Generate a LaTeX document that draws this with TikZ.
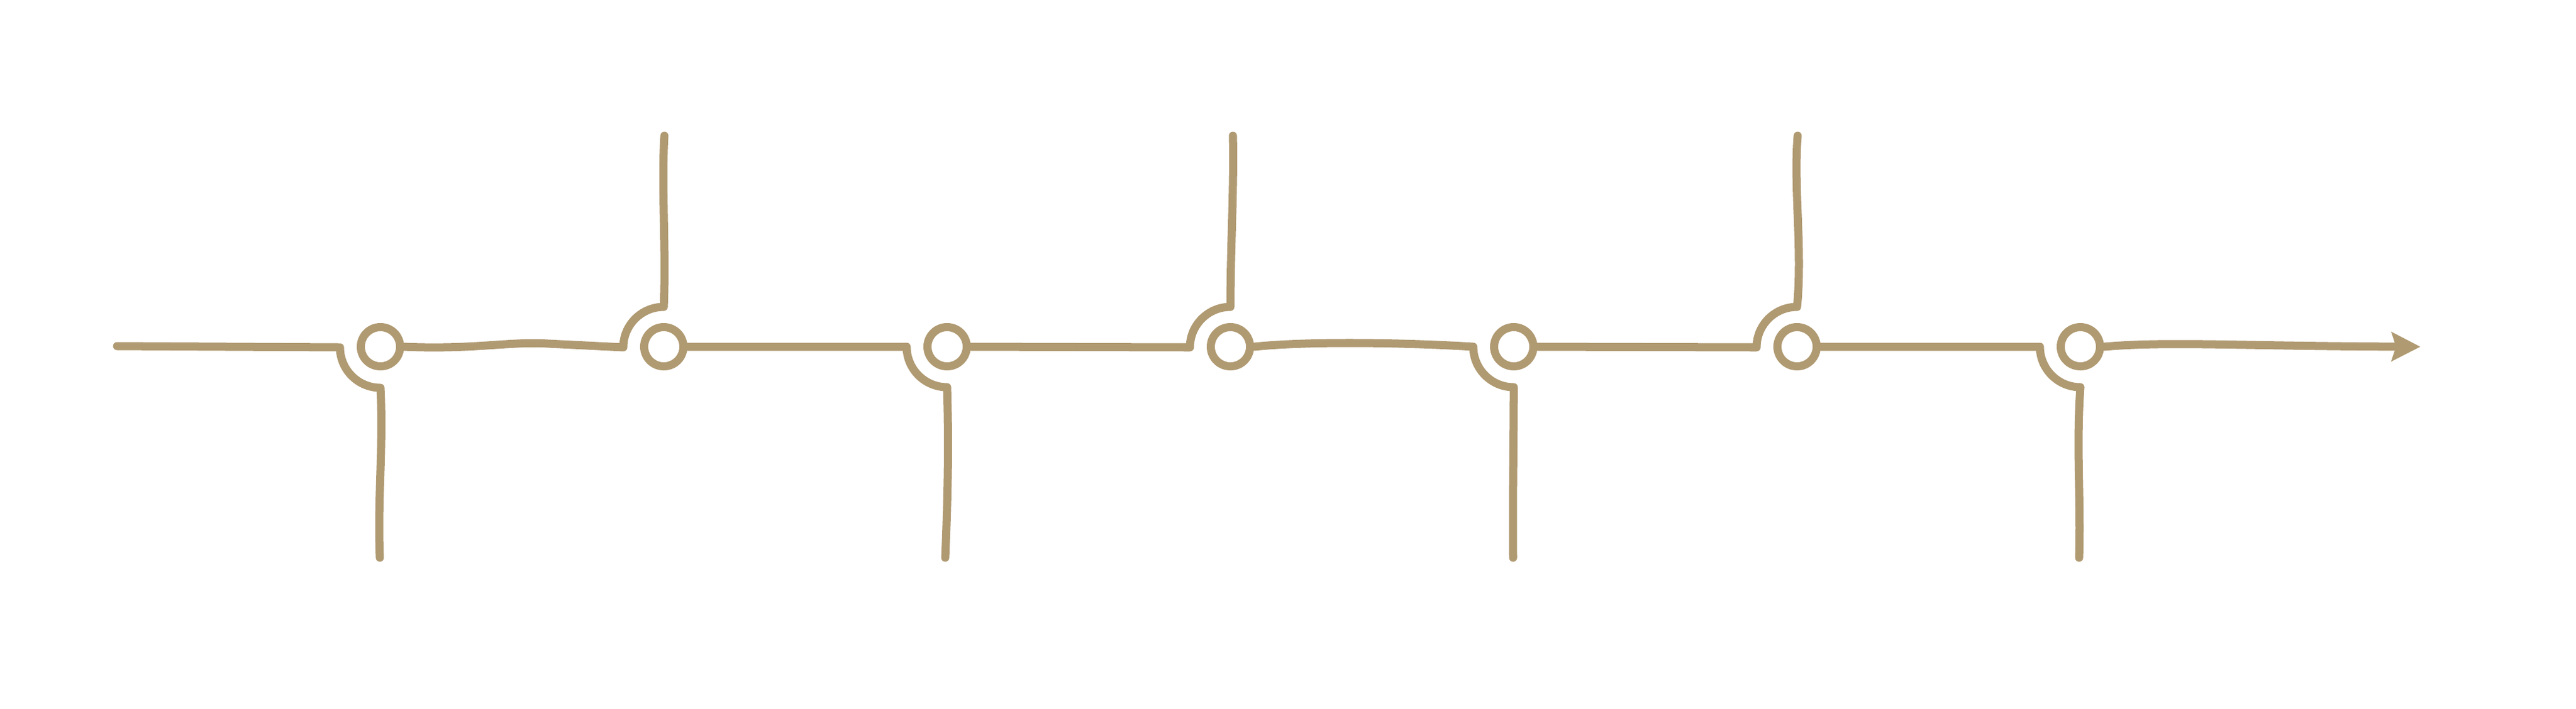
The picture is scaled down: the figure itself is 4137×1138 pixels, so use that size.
\documentclass[tikz,border=0pt]{standalone}
\usetikzlibrary{arrows.meta}
\definecolor{sand}{RGB}{176,154,114}
\begin{document}
\begin{tikzpicture}[x=0.01cm,y=-0.01cm,
  wire/.style={draw=sand,line width=3.7pt,line cap=round,line join=round},
  stn/.style={circle,draw=sand,line width=3.7pt,minimum size=0.63cm,inner sep=0pt}]
\useasboundingbox (0,0) rectangle (4137,1138);
% stations
\node[stn] (c1) at (611,557) {};
\node[stn] (c2) at (1066,557) {};
\node[stn] (c3) at (1521,557) {};
\node[stn] (c4) at (1976,557) {};
\node[stn] (c5) at (2431,557) {};
\node[stn] (c6) at (2886,557) {};
\node[stn] (c7) at (3341,557) {};
% start, bends, branch ends, tip
\coordinate (s) at (188,556);
\coordinate (k1) at (546,558);
\coordinate (k2) at (1001,558);
\coordinate (k3) at (1456,557);
\coordinate (k4) at (1911,558);
\coordinate (k5) at (2366,557);
\coordinate (k6) at (2821,558);
\coordinate (k7) at (3276,557);
\coordinate (e1) at (610,896);
\coordinate (e2) at (1067,218);
\coordinate (e3) at (1518,896);
\coordinate (e4) at (1980,218);
\coordinate (e5) at (2430,896);
\coordinate (e6) at (2887,218);
\coordinate (e7) at (3339,896);
\coordinate (tip) at (3887,557);
% line pieces
\draw[wire] (s) -- (k1) arc[start angle=180,end angle=90,radius=65]
  .. controls (616,720) and (606,800) .. (e1);
\draw[wire] (c1.east) .. controls (760,562) and (820,548) .. (880,552) -- (k2)
  arc[start angle=180,end angle=270,radius=65]
  .. controls (1070,400) and (1062,300) .. (e2);
\draw[wire] (c2.east) -- (k3) arc[start angle=180,end angle=90,radius=65]
  .. controls (1524,720) and (1522,800) .. (e3);
\draw[wire] (c3.east) -- (k4) arc[start angle=180,end angle=270,radius=65]
  .. controls (1976,400) and (1982,300) .. (e4);
\draw[wire] (c4.east) .. controls (2100,548) and (2250,550) .. (k5)
  arc[start angle=180,end angle=90,radius=65]
  .. controls (2431,720) and (2429,800) .. (e5);
\draw[wire] (c5.east) -- (k6) arc[start angle=180,end angle=270,radius=65]
  .. controls (2895,400) and (2880,300) .. (e6);
\draw[wire] (c6.east) -- (k7) arc[start angle=180,end angle=90,radius=65]
  .. controls (3334,720) and (3342,800) .. (e7);
\draw[wire,-{Stealth[length=0.46cm,width=0.46cm,inset=0.07cm]}]
  (c7.east) .. controls (3480,548) and (3600,556) .. (tip);
\end{tikzpicture}
\end{document}
